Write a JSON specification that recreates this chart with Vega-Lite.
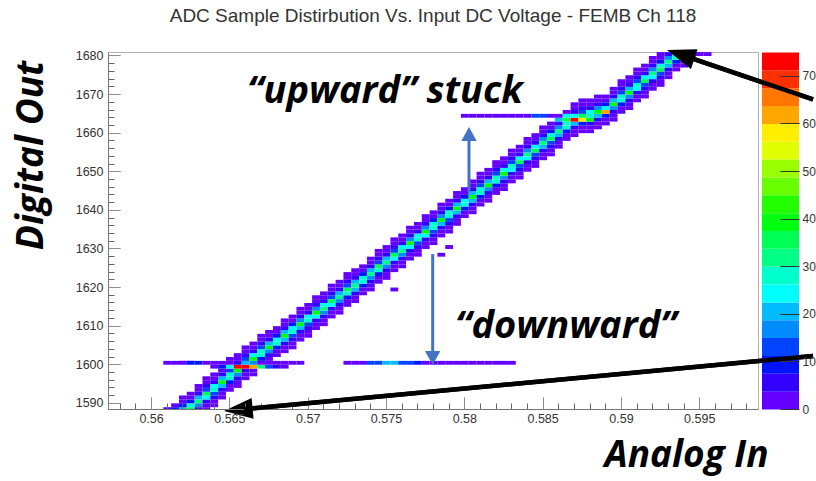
{
  "$schema": "https://vega.github.io/schema/vega-lite/v6.json",
  "background": "white",
  "padding": {"left": 11, "top": 6, "right": 0, "bottom": 9},
  "autosize": {"type": "pad"},
  "config": {
    "font": "Liberation Sans",
    "view": {"stroke": "#b0b0b0", "strokeWidth": 1},
    "axis": {"grid": false, "domainColor": "#777", "tickColor": "#666", "labelColor": "#333", "labelFont": "Liberation Sans", "labelFontSize": 12.5, "labelOverlap": false, "labelFlush": false}
  },
  "spacing": 4,
  "bounds": "flush",
  "resolve": {"scale": {"x": "independent", "y": "independent", "color": "independent"}},
  "datasets": {
    "cells": [
      {"x":0.56075,"y":1588,"n":1},{"x":0.56075,"y":1600,"n":2},
      {"x":0.56125,"y":1588,"n":9},{"x":0.56125,"y":1589,"n":1},{"x":0.56125,"y":1600,"n":2},
      {"x":0.56175,"y":1588,"n":22},{"x":0.56175,"y":1589,"n":9},{"x":0.56175,"y":1590,"n":3},{"x":0.56175,"y":1591,"n":1},{"x":0.56175,"y":1600,"n":2},
      {"x":0.56225,"y":1588,"n":36},{"x":0.56225,"y":1589,"n":29},{"x":0.56225,"y":1590,"n":9},{"x":0.56225,"y":1591,"n":3},{"x":0.56225,"y":1592,"n":1},{"x":0.56225,"y":1600,"n":9},
      {"x":0.56275,"y":1588,"n":4},{"x":0.56275,"y":1589,"n":15},{"x":0.56275,"y":1590,"n":32},{"x":0.56275,"y":1591,"n":19},{"x":0.56275,"y":1592,"n":5},{"x":0.56275,"y":1593,"n":3},{"x":0.56275,"y":1594,"n":1},{"x":0.56275,"y":1600,"n":9},
      {"x":0.56325,"y":1588,"n":1},{"x":0.56325,"y":1589,"n":3},{"x":0.56325,"y":1590,"n":7},{"x":0.56325,"y":1591,"n":24},{"x":0.56325,"y":1592,"n":34},{"x":0.56325,"y":1593,"n":12},{"x":0.56325,"y":1594,"n":4},{"x":0.56325,"y":1595,"n":2},{"x":0.56325,"y":1596,"n":1},{"x":0.56325,"y":1600,"n":2},
      {"x":0.56375,"y":1589,"n":1},{"x":0.56375,"y":1590,"n":2},{"x":0.56375,"y":1591,"n":4},{"x":0.56375,"y":1592,"n":12},{"x":0.56375,"y":1593,"n":28},{"x":0.56375,"y":1594,"n":24},{"x":0.56375,"y":1595,"n":7},{"x":0.56375,"y":1596,"n":3},{"x":0.56375,"y":1597,"n":1},{"x":0.56375,"y":1599,"n":2},{"x":0.56375,"y":1600,"n":2},
      {"x":0.56425,"y":1591,"n":1},{"x":0.56425,"y":1592,"n":2},{"x":0.56425,"y":1593,"n":5},{"x":0.56425,"y":1594,"n":19},{"x":0.56425,"y":1595,"n":40},{"x":0.56425,"y":1596,"n":19},{"x":0.56425,"y":1597,"n":5},{"x":0.56425,"y":1598,"n":2},{"x":0.56425,"y":1599,"n":10},{"x":0.56425,"y":1600,"n":2},
      {"x":0.56475,"y":1593,"n":1},{"x":0.56475,"y":1594,"n":3},{"x":0.56475,"y":1595,"n":9},{"x":0.56475,"y":1596,"n":29},{"x":0.56475,"y":1597,"n":28},{"x":0.56475,"y":1598,"n":12},{"x":0.56475,"y":1599,"n":24},{"x":0.56475,"y":1600,"n":2},{"x":0.56475,"y":1601,"n":1},
      {"x":0.56525,"y":1594,"n":1},{"x":0.56525,"y":1595,"n":2},{"x":0.56525,"y":1596,"n":4},{"x":0.56525,"y":1597,"n":15},{"x":0.56525,"y":1598,"n":40},{"x":0.56525,"y":1599,"n":73},{"x":0.56525,"y":1600,"n":7},{"x":0.56525,"y":1601,"n":3},{"x":0.56525,"y":1602,"n":1},
      {"x":0.56575,"y":1596,"n":1},{"x":0.56575,"y":1597,"n":3},{"x":0.56575,"y":1598,"n":7},{"x":0.56575,"y":1599,"n":72},{"x":0.56575,"y":1600,"n":20},{"x":0.56575,"y":1601,"n":12},{"x":0.56575,"y":1602,"n":4},{"x":0.56575,"y":1603,"n":2},{"x":0.56575,"y":1604,"n":1},
      {"x":0.56625,"y":1597,"n":1},{"x":0.56625,"y":1598,"n":2},{"x":0.56625,"y":1599,"n":62},{"x":0.56625,"y":1600,"n":15},{"x":0.56625,"y":1601,"n":40},{"x":0.56625,"y":1602,"n":24},{"x":0.56625,"y":1603,"n":7},{"x":0.56625,"y":1604,"n":3},{"x":0.56625,"y":1605,"n":1},
      {"x":0.56675,"y":1599,"n":30},{"x":0.56675,"y":1600,"n":3},{"x":0.56675,"y":1601,"n":9},{"x":0.56675,"y":1602,"n":29},{"x":0.56675,"y":1603,"n":28},{"x":0.56675,"y":1604,"n":12},{"x":0.56675,"y":1605,"n":4},{"x":0.56675,"y":1606,"n":2},{"x":0.56675,"y":1607,"n":1},
      {"x":0.56725,"y":1599,"n":12},{"x":0.56725,"y":1600,"n":2},{"x":0.56725,"y":1601,"n":2},{"x":0.56725,"y":1602,"n":4},{"x":0.56725,"y":1603,"n":15},{"x":0.56725,"y":1604,"n":40},{"x":0.56725,"y":1605,"n":19},{"x":0.56725,"y":1606,"n":5},{"x":0.56725,"y":1607,"n":3},{"x":0.56725,"y":1608,"n":1},
      {"x":0.56775,"y":1599,"n":4},{"x":0.56775,"y":1600,"n":2},{"x":0.56775,"y":1602,"n":1},{"x":0.56775,"y":1603,"n":3},{"x":0.56775,"y":1604,"n":9},{"x":0.56775,"y":1605,"n":29},{"x":0.56775,"y":1606,"n":24},{"x":0.56775,"y":1607,"n":9},{"x":0.56775,"y":1608,"n":3},{"x":0.56775,"y":1609,"n":1},
      {"x":0.56825,"y":1599,"n":2},{"x":0.56825,"y":1600,"n":2},{"x":0.56825,"y":1603,"n":1},{"x":0.56825,"y":1604,"n":2},{"x":0.56825,"y":1605,"n":5},{"x":0.56825,"y":1606,"n":19},{"x":0.56825,"y":1607,"n":40},{"x":0.56825,"y":1608,"n":19},{"x":0.56825,"y":1609,"n":5},{"x":0.56825,"y":1610,"n":2},{"x":0.56825,"y":1611,"n":1},
      {"x":0.56875,"y":1600,"n":2},{"x":0.56875,"y":1604,"n":1},{"x":0.56875,"y":1605,"n":2},{"x":0.56875,"y":1606,"n":4},{"x":0.56875,"y":1607,"n":12},{"x":0.56875,"y":1608,"n":28},{"x":0.56875,"y":1609,"n":26},{"x":0.56875,"y":1610,"n":9},{"x":0.56875,"y":1611,"n":3},{"x":0.56875,"y":1612,"n":1},
      {"x":0.56925,"y":1600,"n":2},{"x":0.56925,"y":1606,"n":1},{"x":0.56925,"y":1607,"n":3},{"x":0.56925,"y":1608,"n":5},{"x":0.56925,"y":1609,"n":19},{"x":0.56925,"y":1610,"n":40},{"x":0.56925,"y":1611,"n":15},{"x":0.56925,"y":1612,"n":4},{"x":0.56925,"y":1613,"n":2},{"x":0.56925,"y":1614,"n":1},
      {"x":0.56975,"y":1607,"n":1},{"x":0.56975,"y":1608,"n":2},{"x":0.56975,"y":1609,"n":4},{"x":0.56975,"y":1610,"n":12},{"x":0.56975,"y":1611,"n":28},{"x":0.56975,"y":1612,"n":24},{"x":0.56975,"y":1613,"n":7},{"x":0.56975,"y":1614,"n":3},{"x":0.56975,"y":1615,"n":1},
      {"x":0.57025,"y":1609,"n":1},{"x":0.57025,"y":1610,"n":3},{"x":0.57025,"y":1611,"n":7},{"x":0.57025,"y":1612,"n":24},{"x":0.57025,"y":1613,"n":40},{"x":0.57025,"y":1614,"n":15},{"x":0.57025,"y":1615,"n":4},{"x":0.57025,"y":1616,"n":2},{"x":0.57025,"y":1617,"n":1},
      {"x":0.57075,"y":1610,"n":1},{"x":0.57075,"y":1611,"n":2},{"x":0.57075,"y":1612,"n":4},{"x":0.57075,"y":1613,"n":15},{"x":0.57075,"y":1614,"n":32},{"x":0.57075,"y":1615,"n":24},{"x":0.57075,"y":1616,"n":7},{"x":0.57075,"y":1617,"n":3},{"x":0.57075,"y":1618,"n":1},
      {"x":0.57125,"y":1612,"n":1},{"x":0.57125,"y":1613,"n":3},{"x":0.57125,"y":1614,"n":7},{"x":0.57125,"y":1615,"n":24},{"x":0.57125,"y":1616,"n":34},{"x":0.57125,"y":1617,"n":12},{"x":0.57125,"y":1618,"n":4},{"x":0.57125,"y":1619,"n":2},{"x":0.57125,"y":1620,"n":1},
      {"x":0.57175,"y":1613,"n":1},{"x":0.57175,"y":1614,"n":2},{"x":0.57175,"y":1615,"n":4},{"x":0.57175,"y":1616,"n":15},{"x":0.57175,"y":1617,"n":32},{"x":0.57175,"y":1618,"n":19},{"x":0.57175,"y":1619,"n":5},{"x":0.57175,"y":1620,"n":3},{"x":0.57175,"y":1621,"n":1},
      {"x":0.57225,"y":1600,"n":2},{"x":0.57225,"y":1615,"n":1},{"x":0.57225,"y":1616,"n":3},{"x":0.57225,"y":1617,"n":9},{"x":0.57225,"y":1618,"n":29},{"x":0.57225,"y":1619,"n":34},{"x":0.57225,"y":1620,"n":12},{"x":0.57225,"y":1621,"n":4},{"x":0.57225,"y":1622,"n":2},{"x":0.57225,"y":1623,"n":1},
      {"x":0.57275,"y":1600,"n":2},{"x":0.57275,"y":1616,"n":1},{"x":0.57275,"y":1617,"n":2},{"x":0.57275,"y":1618,"n":5},{"x":0.57275,"y":1619,"n":19},{"x":0.57275,"y":1620,"n":32},{"x":0.57275,"y":1621,"n":19},{"x":0.57275,"y":1622,"n":5},{"x":0.57275,"y":1623,"n":2},{"x":0.57275,"y":1624,"n":1},
      {"x":0.57325,"y":1600,"n":2},{"x":0.57325,"y":1618,"n":1},{"x":0.57325,"y":1619,"n":3},{"x":0.57325,"y":1620,"n":9},{"x":0.57325,"y":1621,"n":29},{"x":0.57325,"y":1622,"n":29},{"x":0.57325,"y":1623,"n":9},{"x":0.57325,"y":1624,"n":3},{"x":0.57325,"y":1625,"n":1},
      {"x":0.57375,"y":1600,"n":12},{"x":0.57375,"y":1619,"n":1},{"x":0.57375,"y":1620,"n":2},{"x":0.57375,"y":1621,"n":4},{"x":0.57375,"y":1622,"n":15},{"x":0.57375,"y":1623,"n":32},{"x":0.57375,"y":1624,"n":19},{"x":0.57375,"y":1625,"n":5},{"x":0.57375,"y":1626,"n":3},{"x":0.57375,"y":1627,"n":1},
      {"x":0.57425,"y":1600,"n":13},{"x":0.57425,"y":1621,"n":1},{"x":0.57425,"y":1622,"n":3},{"x":0.57425,"y":1623,"n":9},{"x":0.57425,"y":1624,"n":29},{"x":0.57425,"y":1625,"n":34},{"x":0.57425,"y":1626,"n":12},{"x":0.57425,"y":1627,"n":4},{"x":0.57425,"y":1628,"n":2},{"x":0.57425,"y":1629,"n":1},
      {"x":0.57475,"y":1600,"n":20},{"x":0.57475,"y":1622,"n":1},{"x":0.57475,"y":1623,"n":2},{"x":0.57475,"y":1624,"n":4},{"x":0.57475,"y":1625,"n":15},{"x":0.57475,"y":1626,"n":32},{"x":0.57475,"y":1627,"n":19},{"x":0.57475,"y":1628,"n":5},{"x":0.57475,"y":1629,"n":3},{"x":0.57475,"y":1630,"n":1},
      {"x":0.57525,"y":1600,"n":21},{"x":0.57525,"y":1619,"n":2},{"x":0.57525,"y":1624,"n":1},{"x":0.57525,"y":1625,"n":3},{"x":0.57525,"y":1626,"n":7},{"x":0.57525,"y":1627,"n":24},{"x":0.57525,"y":1628,"n":34},{"x":0.57525,"y":1629,"n":12},{"x":0.57525,"y":1630,"n":4},{"x":0.57525,"y":1631,"n":2},{"x":0.57525,"y":1632,"n":1},
      {"x":0.57575,"y":1600,"n":13},{"x":0.57575,"y":1625,"n":1},{"x":0.57575,"y":1626,"n":2},{"x":0.57575,"y":1627,"n":4},{"x":0.57575,"y":1628,"n":15},{"x":0.57575,"y":1629,"n":32},{"x":0.57575,"y":1630,"n":24},{"x":0.57575,"y":1631,"n":7},{"x":0.57575,"y":1632,"n":3},{"x":0.57575,"y":1633,"n":1},
      {"x":0.57625,"y":1600,"n":12},{"x":0.57625,"y":1627,"n":1},{"x":0.57625,"y":1628,"n":3},{"x":0.57625,"y":1629,"n":7},{"x":0.57625,"y":1630,"n":24},{"x":0.57625,"y":1631,"n":40},{"x":0.57625,"y":1632,"n":15},{"x":0.57625,"y":1633,"n":4},{"x":0.57625,"y":1634,"n":2},{"x":0.57625,"y":1635,"n":1},
      {"x":0.57675,"y":1600,"n":9},{"x":0.57675,"y":1628,"n":1},{"x":0.57675,"y":1629,"n":2},{"x":0.57675,"y":1630,"n":4},{"x":0.57675,"y":1631,"n":12},{"x":0.57675,"y":1632,"n":28},{"x":0.57675,"y":1633,"n":24},{"x":0.57675,"y":1634,"n":7},{"x":0.57675,"y":1635,"n":3},{"x":0.57675,"y":1636,"n":1},
      {"x":0.57725,"y":1600,"n":3},{"x":0.57725,"y":1630,"n":1},{"x":0.57725,"y":1631,"n":3},{"x":0.57725,"y":1632,"n":7},{"x":0.57725,"y":1633,"n":24},{"x":0.57725,"y":1634,"n":40},{"x":0.57725,"y":1635,"n":15},{"x":0.57725,"y":1636,"n":4},{"x":0.57725,"y":1637,"n":2},{"x":0.57725,"y":1638,"n":1},
      {"x":0.57775,"y":1600,"n":2},{"x":0.57775,"y":1631,"n":1},{"x":0.57775,"y":1632,"n":2},{"x":0.57775,"y":1633,"n":4},{"x":0.57775,"y":1634,"n":12},{"x":0.57775,"y":1635,"n":28},{"x":0.57775,"y":1636,"n":29},{"x":0.57775,"y":1637,"n":9},{"x":0.57775,"y":1638,"n":3},{"x":0.57775,"y":1639,"n":1},
      {"x":0.57825,"y":1600,"n":2},{"x":0.57825,"y":1628,"n":2},{"x":0.57825,"y":1633,"n":1},{"x":0.57825,"y":1634,"n":3},{"x":0.57825,"y":1635,"n":5},{"x":0.57825,"y":1636,"n":19},{"x":0.57825,"y":1637,"n":40},{"x":0.57825,"y":1638,"n":15},{"x":0.57825,"y":1639,"n":4},{"x":0.57825,"y":1640,"n":2},{"x":0.57825,"y":1641,"n":1},
      {"x":0.57875,"y":1600,"n":2},{"x":0.57875,"y":1630,"n":2},{"x":0.57875,"y":1634,"n":1},{"x":0.57875,"y":1635,"n":2},{"x":0.57875,"y":1636,"n":4},{"x":0.57875,"y":1637,"n":12},{"x":0.57875,"y":1638,"n":28},{"x":0.57875,"y":1639,"n":29},{"x":0.57875,"y":1640,"n":9},{"x":0.57875,"y":1641,"n":3},{"x":0.57875,"y":1642,"n":1},
      {"x":0.57925,"y":1600,"n":2},{"x":0.57925,"y":1636,"n":1},{"x":0.57925,"y":1637,"n":2},{"x":0.57925,"y":1638,"n":5},{"x":0.57925,"y":1639,"n":19},{"x":0.57925,"y":1640,"n":40},{"x":0.57925,"y":1641,"n":19},{"x":0.57925,"y":1642,"n":5},{"x":0.57925,"y":1643,"n":2},{"x":0.57925,"y":1644,"n":1},
      {"x":0.57975,"y":1600,"n":2},{"x":0.57975,"y":1638,"n":1},{"x":0.57975,"y":1639,"n":3},{"x":0.57975,"y":1640,"n":9},{"x":0.57975,"y":1641,"n":29},{"x":0.57975,"y":1642,"n":24},{"x":0.57975,"y":1643,"n":9},{"x":0.57975,"y":1644,"n":3},{"x":0.57975,"y":1645,"n":1},{"x":0.57975,"y":1664,"n":2},
      {"x":0.58025,"y":1600,"n":2},{"x":0.58025,"y":1639,"n":1},{"x":0.58025,"y":1640,"n":2},{"x":0.58025,"y":1641,"n":5},{"x":0.58025,"y":1642,"n":19},{"x":0.58025,"y":1643,"n":40},{"x":0.58025,"y":1644,"n":19},{"x":0.58025,"y":1645,"n":5},{"x":0.58025,"y":1646,"n":2},{"x":0.58025,"y":1647,"n":1},{"x":0.58025,"y":1664,"n":2},
      {"x":0.58075,"y":1600,"n":2},{"x":0.58075,"y":1641,"n":1},{"x":0.58075,"y":1642,"n":3},{"x":0.58075,"y":1643,"n":9},{"x":0.58075,"y":1644,"n":29},{"x":0.58075,"y":1645,"n":28},{"x":0.58075,"y":1646,"n":12},{"x":0.58075,"y":1647,"n":4},{"x":0.58075,"y":1648,"n":2},{"x":0.58075,"y":1649,"n":1},{"x":0.58075,"y":1664,"n":2},
      {"x":0.58125,"y":1600,"n":2},{"x":0.58125,"y":1642,"n":1},{"x":0.58125,"y":1643,"n":2},{"x":0.58125,"y":1644,"n":4},{"x":0.58125,"y":1645,"n":15},{"x":0.58125,"y":1646,"n":40},{"x":0.58125,"y":1647,"n":19},{"x":0.58125,"y":1648,"n":5},{"x":0.58125,"y":1649,"n":3},{"x":0.58125,"y":1650,"n":1},{"x":0.58125,"y":1664,"n":2},
      {"x":0.58175,"y":1600,"n":2},{"x":0.58175,"y":1644,"n":1},{"x":0.58175,"y":1645,"n":3},{"x":0.58175,"y":1646,"n":9},{"x":0.58175,"y":1647,"n":29},{"x":0.58175,"y":1648,"n":28},{"x":0.58175,"y":1649,"n":12},{"x":0.58175,"y":1650,"n":4},{"x":0.58175,"y":1651,"n":2},{"x":0.58175,"y":1652,"n":1},{"x":0.58175,"y":1664,"n":2},
      {"x":0.58225,"y":1600,"n":2},{"x":0.58225,"y":1645,"n":1},{"x":0.58225,"y":1646,"n":2},{"x":0.58225,"y":1647,"n":4},{"x":0.58225,"y":1648,"n":15},{"x":0.58225,"y":1649,"n":40},{"x":0.58225,"y":1650,"n":24},{"x":0.58225,"y":1651,"n":7},{"x":0.58225,"y":1652,"n":3},{"x":0.58225,"y":1653,"n":1},{"x":0.58225,"y":1664,"n":2},
      {"x":0.58275,"y":1600,"n":2},{"x":0.58275,"y":1647,"n":1},{"x":0.58275,"y":1648,"n":3},{"x":0.58275,"y":1649,"n":7},{"x":0.58275,"y":1650,"n":24},{"x":0.58275,"y":1651,"n":28},{"x":0.58275,"y":1652,"n":12},{"x":0.58275,"y":1653,"n":4},{"x":0.58275,"y":1654,"n":2},{"x":0.58275,"y":1655,"n":1},{"x":0.58275,"y":1664,"n":2},
      {"x":0.58325,"y":1648,"n":1},{"x":0.58325,"y":1649,"n":2},{"x":0.58325,"y":1650,"n":4},{"x":0.58325,"y":1651,"n":12},{"x":0.58325,"y":1652,"n":34},{"x":0.58325,"y":1653,"n":24},{"x":0.58325,"y":1654,"n":7},{"x":0.58325,"y":1655,"n":3},{"x":0.58325,"y":1656,"n":1},{"x":0.58325,"y":1664,"n":2},
      {"x":0.58375,"y":1650,"n":1},{"x":0.58375,"y":1651,"n":3},{"x":0.58375,"y":1652,"n":7},{"x":0.58375,"y":1653,"n":24},{"x":0.58375,"y":1654,"n":32},{"x":0.58375,"y":1655,"n":15},{"x":0.58375,"y":1656,"n":4},{"x":0.58375,"y":1657,"n":2},{"x":0.58375,"y":1658,"n":1},{"x":0.58375,"y":1664,"n":2},
      {"x":0.58425,"y":1651,"n":1},{"x":0.58425,"y":1652,"n":2},{"x":0.58425,"y":1653,"n":4},{"x":0.58425,"y":1654,"n":12},{"x":0.58425,"y":1655,"n":34},{"x":0.58425,"y":1656,"n":24},{"x":0.58425,"y":1657,"n":7},{"x":0.58425,"y":1658,"n":3},{"x":0.58425,"y":1659,"n":1},{"x":0.58425,"y":1664,"n":12},
      {"x":0.58475,"y":1653,"n":1},{"x":0.58475,"y":1654,"n":3},{"x":0.58475,"y":1655,"n":5},{"x":0.58475,"y":1656,"n":19},{"x":0.58475,"y":1657,"n":32},{"x":0.58475,"y":1658,"n":15},{"x":0.58475,"y":1659,"n":4},{"x":0.58475,"y":1660,"n":2},{"x":0.58475,"y":1661,"n":1},{"x":0.58475,"y":1664,"n":12},
      {"x":0.58525,"y":1654,"n":1},{"x":0.58525,"y":1655,"n":2},{"x":0.58525,"y":1656,"n":4},{"x":0.58525,"y":1657,"n":12},{"x":0.58525,"y":1658,"n":34},{"x":0.58525,"y":1659,"n":29},{"x":0.58525,"y":1660,"n":9},{"x":0.58525,"y":1661,"n":3},{"x":0.58525,"y":1662,"n":1},{"x":0.58525,"y":1664,"n":2},
      {"x":0.58575,"y":1656,"n":1},{"x":0.58575,"y":1657,"n":3},{"x":0.58575,"y":1658,"n":5},{"x":0.58575,"y":1659,"n":19},{"x":0.58575,"y":1660,"n":32},{"x":0.58575,"y":1661,"n":15},{"x":0.58575,"y":1662,"n":4},{"x":0.58575,"y":1663,"n":22},{"x":0.58575,"y":1664,"n":3},
      {"x":0.58625,"y":1658,"n":1},{"x":0.58625,"y":1659,"n":3},{"x":0.58625,"y":1660,"n":9},{"x":0.58625,"y":1661,"n":29},{"x":0.58625,"y":1662,"n":29},{"x":0.58625,"y":1663,"n":36},{"x":0.58625,"y":1664,"n":24},{"x":0.58625,"y":1665,"n":1},
      {"x":0.58675,"y":1659,"n":1},{"x":0.58675,"y":1660,"n":2},{"x":0.58675,"y":1661,"n":5},{"x":0.58675,"y":1662,"n":19},{"x":0.58675,"y":1663,"n":73},{"x":0.58675,"y":1664,"n":24},{"x":0.58675,"y":1665,"n":5},{"x":0.58675,"y":1666,"n":2},{"x":0.58675,"y":1667,"n":1},
      {"x":0.58725,"y":1660,"n":1},{"x":0.58725,"y":1661,"n":3},{"x":0.58725,"y":1662,"n":9},{"x":0.58725,"y":1663,"n":57},{"x":0.58725,"y":1664,"n":34},{"x":0.58725,"y":1665,"n":12},{"x":0.58725,"y":1666,"n":4},{"x":0.58725,"y":1667,"n":2},{"x":0.58725,"y":1668,"n":1},
      {"x":0.58775,"y":1660,"n":1},{"x":0.58775,"y":1661,"n":2},{"x":0.58775,"y":1662,"n":4},{"x":0.58775,"y":1663,"n":40},{"x":0.58775,"y":1664,"n":28},{"x":0.58775,"y":1665,"n":24},{"x":0.58775,"y":1666,"n":7},{"x":0.58775,"y":1667,"n":3},{"x":0.58775,"y":1668,"n":1},
      {"x":0.58825,"y":1661,"n":1},{"x":0.58825,"y":1662,"n":3},{"x":0.58825,"y":1663,"n":5},{"x":0.58825,"y":1664,"n":19},{"x":0.58825,"y":1665,"n":40},{"x":0.58825,"y":1666,"n":15},{"x":0.58825,"y":1667,"n":4},{"x":0.58825,"y":1668,"n":2},{"x":0.58825,"y":1669,"n":1},
      {"x":0.58875,"y":1662,"n":1},{"x":0.58875,"y":1663,"n":3},{"x":0.58875,"y":1664,"n":9},{"x":0.58875,"y":1665,"n":62},{"x":0.58875,"y":1666,"n":24},{"x":0.58875,"y":1667,"n":9},{"x":0.58875,"y":1668,"n":3},{"x":0.58875,"y":1669,"n":1},
      {"x":0.58925,"y":1663,"n":1},{"x":0.58925,"y":1664,"n":2},{"x":0.58925,"y":1665,"n":4},{"x":0.58925,"y":1666,"n":15},{"x":0.58925,"y":1667,"n":40},{"x":0.58925,"y":1668,"n":19},{"x":0.58925,"y":1669,"n":5},{"x":0.58925,"y":1670,"n":3},{"x":0.58925,"y":1671,"n":1},
      {"x":0.58975,"y":1665,"n":1},{"x":0.58975,"y":1666,"n":3},{"x":0.58975,"y":1667,"n":9},{"x":0.58975,"y":1668,"n":29},{"x":0.58975,"y":1669,"n":28},{"x":0.58975,"y":1670,"n":12},{"x":0.58975,"y":1671,"n":4},{"x":0.58975,"y":1672,"n":2},{"x":0.58975,"y":1673,"n":1},
      {"x":0.59025,"y":1666,"n":1},{"x":0.59025,"y":1667,"n":2},{"x":0.59025,"y":1668,"n":4},{"x":0.59025,"y":1669,"n":15},{"x":0.59025,"y":1670,"n":40},{"x":0.59025,"y":1671,"n":19},{"x":0.59025,"y":1672,"n":5},{"x":0.59025,"y":1673,"n":3},{"x":0.59025,"y":1674,"n":1},
      {"x":0.59075,"y":1668,"n":1},{"x":0.59075,"y":1669,"n":3},{"x":0.59075,"y":1670,"n":7},{"x":0.59075,"y":1671,"n":24},{"x":0.59075,"y":1672,"n":28},{"x":0.59075,"y":1673,"n":12},{"x":0.59075,"y":1674,"n":4},{"x":0.59075,"y":1675,"n":2},{"x":0.59075,"y":1676,"n":1},
      {"x":0.59125,"y":1669,"n":1},{"x":0.59125,"y":1670,"n":2},{"x":0.59125,"y":1671,"n":4},{"x":0.59125,"y":1672,"n":12},{"x":0.59125,"y":1673,"n":34},{"x":0.59125,"y":1674,"n":24},{"x":0.59125,"y":1675,"n":7},{"x":0.59125,"y":1676,"n":3},{"x":0.59125,"y":1677,"n":1},
      {"x":0.59175,"y":1671,"n":1},{"x":0.59175,"y":1672,"n":3},{"x":0.59175,"y":1673,"n":7},{"x":0.59175,"y":1674,"n":24},{"x":0.59175,"y":1675,"n":32},{"x":0.59175,"y":1676,"n":15},{"x":0.59175,"y":1677,"n":4},{"x":0.59175,"y":1678,"n":2},{"x":0.59175,"y":1679,"n":1},
      {"x":0.59225,"y":1672,"n":1},{"x":0.59225,"y":1673,"n":2},{"x":0.59225,"y":1674,"n":4},{"x":0.59225,"y":1675,"n":12},{"x":0.59225,"y":1676,"n":34},{"x":0.59225,"y":1677,"n":29},{"x":0.59225,"y":1678,"n":9},{"x":0.59225,"y":1679,"n":3},{"x":0.59225,"y":1680,"n":1},
      {"x":0.59275,"y":1674,"n":1},{"x":0.59275,"y":1675,"n":3},{"x":0.59275,"y":1676,"n":5},{"x":0.59275,"y":1677,"n":19},{"x":0.59275,"y":1678,"n":32},{"x":0.59275,"y":1679,"n":15},{"x":0.59275,"y":1680,"n":4},
      {"x":0.59325,"y":1676,"n":1},{"x":0.59325,"y":1677,"n":3},{"x":0.59325,"y":1678,"n":9},{"x":0.59325,"y":1679,"n":29},{"x":0.59325,"y":1680,"n":29},
      {"x":0.59375,"y":1677,"n":1},{"x":0.59375,"y":1678,"n":2},{"x":0.59375,"y":1679,"n":5},{"x":0.59375,"y":1680,"n":19},
      {"x":0.59425,"y":1679,"n":1},{"x":0.59425,"y":1680,"n":3},
      {"x":0.59475,"y":1680,"n":2},
      {"x":0.59525,"y":1680,"n":2}
    ],
    "bluearrows": [
      {"x1": 0.580298, "y1": 1644.62, "x2": 0.580298, "y2": 1658.87},
      {"x1": 0.57798, "y1": 1628.55, "x2": 0.57798, "y2": 1602.64}
    ],
    "blackarrows": [
      {"x1": 0.602261, "y1": 1668.6, "x2": 0.594153, "y2": 1679.76},
      {"x1": 0.602261, "y1": 1602.14, "x2": 0.565927, "y2": 1588.35}
    ],
    "heads": [
      {"id": "up", "x": 0.580298, "y": 1661.47},
      {"id": "down", "x": 0.57798, "y": 1599.79},
      {"id": "top", "x": 0.59294, "y": 1681.42},
      {"id": "bottom", "x": 0.564656, "y": 1587.87}
    ],
    "notes": [
      {"t": "“upward” stuck", "x": 0.566125, "y": 1670.53},
      {"t": "“downward”", "x": 0.579404, "y": 1609.64}
    ],
    "bar": [
      {"lo": 0}, {"lo": 3.75}, {"lo": 7.5}, {"lo": 11.25}, {"lo": 15}, {"lo": 18.75}, {"lo": 22.5}, {"lo": 26.25}, {"lo": 30}, {"lo": 33.75},
      {"lo": 37.5}, {"lo": 41.25}, {"lo": 45}, {"lo": 48.75}, {"lo": 52.5}, {"lo": 56.25}, {"lo": 60}, {"lo": 63.75}, {"lo": 67.5}, {"lo": 71.25}
    ]
  },
  "hconcat": [
    {
      "width": 650,
      "height": 357,
      "title": {"text": "ADC Sample Distirbution Vs. Input DC Voltage - FEMB Ch 118", "fontSize": 19, "fontWeight": "normal", "color": "#333", "offset": 23, "anchor": "middle", "font": "Liberation Sans"},
      "layer": [
        {
          "data": {"name": "cells"},
          "mark": {"type": "rect", "clip": true},
          "encoding": {
            "x": {
              "field": "x", "type": "quantitative", "bin": {"binned": true, "step": 0.0005},
              "scale": {"domain": [0.55725, 0.59875], "nice": false, "zero": false},
              "axis": {
                "values": [0.558,0.559,0.56,0.561,0.562,0.563,0.564,0.565,0.566,0.567,0.568,0.569,0.57,0.571,0.572,0.573,0.574,0.575,0.576,0.577,0.578,0.579,0.58,0.581,0.582,0.583,0.584,0.585,0.586,0.587,0.588,0.589,0.59,0.591,0.592,0.593,0.594,0.595,0.596,0.597,0.598],
                "labelExpr": "abs(datum.value*200 - round(datum.value*200)) < 0.001 ? format(datum.value, '.3~f') : ''",
                "tickSize": -12,
                "tickDash": {"condition": {"test": "abs(datum.value*200 - round(datum.value*200)) < 0.001", "value": [1, 0]}, "value": [6, 30]},
                "labelPadding": 15,
                "title": "Analog In", "titleFont": "Open Sans", "titleFontSize": 37, "titleFontStyle": "italic", "titleFontWeight": "bold", "titleColor": "#000",
                "titleAlign": "right", "titleBaseline": "middle", "titleX": 660, "titleY": 46
              }
            },
            "y": {
              "field": "y", "type": "quantitative", "bin": {"binned": true, "step": 1},
              "scale": {"domain": [1588.4, 1680.9], "nice": false, "zero": false},
              "axis": {
                "values": [1588,1590,1592,1594,1596,1598,1600,1602,1604,1606,1608,1610,1612,1614,1616,1618,1620,1622,1624,1626,1628,1630,1632,1634,1636,1638,1640,1642,1644,1646,1648,1650,1652,1654,1656,1658,1660,1662,1664,1666,1668,1670,1672,1674,1676,1678,1680],
                "labelExpr": "datum.value % 10 === 0 ? format(datum.value, 'd') : ''",
                "tickSize": -12,
                "tickDash": {"condition": {"test": "datum.value % 10 === 0", "value": [1, 0]}, "value": [6, 30]},
                "labelPadding": 17,
                "title": "Digital Out", "titleFont": "Open Sans", "titleFontSize": 37, "titleFontStyle": "italic", "titleFontWeight": "bold", "titleColor": "#000",
                "titleAngle": -90, "titleAlign": "center", "titleBaseline": "middle", "titleX": -77, "titleY": 103
              }
            },
            "color": {
              "field": "n", "type": "quantitative",
              "scale": {"type": "threshold", "domain": [3.75,7.5,11.25,15,18.75,22.5,26.25,30,33.75,37.5,41.25,45,48.75,52.5,56.25,60,63.75,67.5,71.25],
                        "range": ["#6300FF","#3300FF","#0014FF","#0044FF","#008BFF","#00BBFF","#00FFFC","#00FFCC","#00FF85","#00FF55","#00FF0E","#22FF00","#69FF00","#99FF00","#E0FF00","#FFEE00","#FFA700","#FF7700","#FF3000","#FF0000"]},
              "legend": null
            }
          }
        },
        {
          "data": {"name": "bluearrows"},
          "mark": {"type": "rule", "color": "#4472C4", "strokeWidth": 3},
          "encoding": {
            "x": {"field": "x1", "type": "quantitative", "scale": {"domain": [0.55725, 0.59875], "nice": false, "zero": false}},
            "y": {"field": "y1", "type": "quantitative", "scale": {"domain": [1588.4, 1680.9], "nice": false, "zero": false}},
            "x2": {"field": "x2"},
            "y2": {"field": "y2"}
          }
        },
        {
          "data": {"name": "heads"},
          "transform": [{"filter": "datum.id === 'up'"}],
          "mark": {"type": "point", "shape": "M0,0L-1,-0.55L-1,0.55Z", "filled": true, "color": "#4472C4", "opacity": 1, "size": 784, "angle": 270},
          "encoding": {
            "x": {"field": "x", "type": "quantitative", "scale": {"domain": [0.55725, 0.59875], "nice": false, "zero": false}},
            "y": {"field": "y", "type": "quantitative", "scale": {"domain": [1588.4, 1680.9], "nice": false, "zero": false}}
          }
        },
        {
          "data": {"name": "heads"},
          "transform": [{"filter": "datum.id === 'down'"}],
          "mark": {"type": "point", "shape": "M0,0L-1,-0.55L-1,0.55Z", "filled": true, "color": "#4472C4", "opacity": 1, "size": 784, "angle": 90},
          "encoding": {
            "x": {"field": "x", "type": "quantitative", "scale": {"domain": [0.55725, 0.59875], "nice": false, "zero": false}},
            "y": {"field": "y", "type": "quantitative", "scale": {"domain": [1588.4, 1680.9], "nice": false, "zero": false}}
          }
        },
        {
          "data": {"name": "blackarrows"},
          "mark": {"type": "rule", "color": "#000", "strokeWidth": 4.5},
          "encoding": {
            "x": {"field": "x1", "type": "quantitative", "scale": {"domain": [0.55725, 0.59875], "nice": false, "zero": false}},
            "y": {"field": "y1", "type": "quantitative", "scale": {"domain": [1588.4, 1680.9], "nice": false, "zero": false}},
            "x2": {"field": "x2"},
            "y2": {"field": "y2"}
          }
        },
        {
          "data": {"name": "heads"},
          "transform": [{"filter": "datum.id === 'top'"}],
          "mark": {"type": "point", "shape": "M0,0L-1,-0.36L-1,0.36Z", "filled": true, "color": "#000", "opacity": 1, "size": 3300, "angle": 198.5},
          "encoding": {
            "x": {"field": "x", "type": "quantitative", "scale": {"domain": [0.55725, 0.59875], "nice": false, "zero": false}},
            "y": {"field": "y", "type": "quantitative", "scale": {"domain": [1588.4, 1680.9], "nice": false, "zero": false}}
          }
        },
        {
          "data": {"name": "heads"},
          "transform": [{"filter": "datum.id === 'bottom'"}],
          "mark": {"type": "point", "shape": "M0,0L-1,-0.36L-1,0.36Z", "filled": true, "color": "#000", "opacity": 1, "size": 3300, "angle": 174.7},
          "encoding": {
            "x": {"field": "x", "type": "quantitative", "scale": {"domain": [0.55725, 0.59875], "nice": false, "zero": false}},
            "y": {"field": "y", "type": "quantitative", "scale": {"domain": [1588.4, 1680.9], "nice": false, "zero": false}}
          }
        },
        {
          "data": {"name": "notes"},
          "mark": {"type": "text", "font": "Open Sans", "fontSize": 38, "fontStyle": "italic", "fontWeight": "bold", "align": "left", "baseline": "middle", "color": "#000"},
          "encoding": {
            "x": {"field": "x", "type": "quantitative", "scale": {"domain": [0.55725, 0.59875], "nice": false, "zero": false}},
            "y": {"field": "y", "type": "quantitative", "scale": {"domain": [1588.4, 1680.9], "nice": false, "zero": false}},
            "text": {"field": "t"}
          }
        }
      ]
    },
    {
      "width": 37,
      "height": 357,
      "view": {"stroke": null},
      "layer": [
        {
          "data": {"name": "bar"},
          "mark": "rect",
          "encoding": {
            "x": {"value": 0},
            "x2": {"value": "width"},
            "y": {
              "field": "lo", "type": "quantitative", "bin": {"binned": true, "step": 3.75},
              "scale": {"domain": [0, 75], "nice": false, "zero": true},
              "axis": {"orient": "right", "values": [0,10,20,30,40,50,60,70], "format": "d", "tickSize": -19, "tickColor": "#333", "domain": false, "labelPadding": 22, "labelFontSize": 12, "title": null}
            },
            "color": {
              "field": "lo", "type": "quantitative",
              "scale": {"type": "threshold", "domain": [3.75,7.5,11.25,15,18.75,22.5,26.25,30,33.75,37.5,41.25,45,48.75,52.5,56.25,60,63.75,67.5,71.25],
                        "range": ["#6300FF","#3300FF","#0014FF","#0044FF","#008BFF","#00BBFF","#00FFFC","#00FFCC","#00FF85","#00FF55","#00FF0E","#22FF00","#69FF00","#99FF00","#E0FF00","#FFEE00","#FFA700","#FF7700","#FF3000","#FF0000"]},
              "legend": null
            }
          }
        },
        {
          "data": {"name": "blackarrows"},
          "mark": {"type": "rule", "color": "#000", "strokeWidth": 4.5},
          "encoding": {
            "x": {"field": "x1", "type": "quantitative", "scale": {"domain": [0.599005, 0.601367], "nice": false, "zero": false}, "axis": null},
            "y": {"field": "y1", "type": "quantitative", "scale": {"domain": [1588.4, 1680.9], "nice": false, "zero": false}, "axis": null},
            "x2": {"field": "x2"},
            "y2": {"field": "y2"}
          }
        }
      ],
      "resolve": {"scale": {"y": "independent"}}
    }
  ]
}
